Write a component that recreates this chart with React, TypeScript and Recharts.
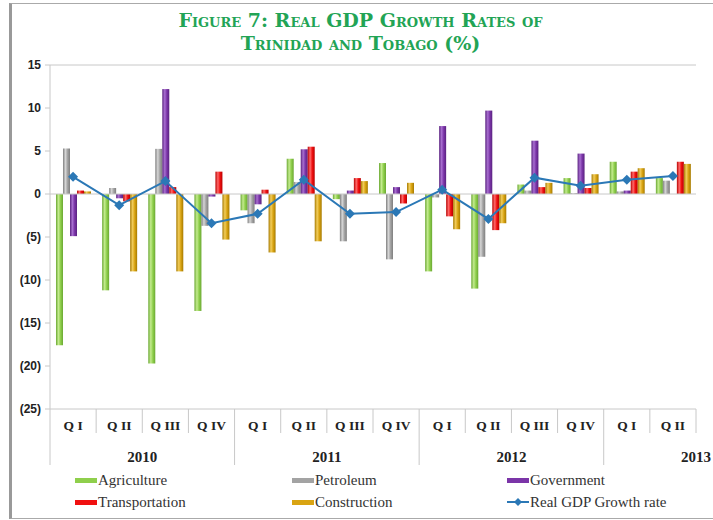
import React from 'react';
import { ComposedChart, Bar, Line, XAxis, YAxis, ReferenceLine, Legend } from 'recharts';

const quarters = ['Q I', 'Q II', 'Q III', 'Q IV', 'Q I', 'Q II', 'Q III', 'Q IV', 'Q I', 'Q II', 'Q III', 'Q IV', 'Q I', 'Q II'];
const years = ['2010', '2010', '2010', '2010', '2011', '2011', '2011', '2011', '2012', '2012', '2012', '2012', '2013', '2013'];

const agriculture = [-17.6, -11.2, -19.7, -13.6, -1.9, 4.1, -0.6, 3.6, -9.0, -11.0, 1.1, 1.85, 3.75, 1.85];
const petroleum = [5.3, 0.7, 5.25, -3.7, -3.4, 1.4, -5.5, -7.6, -0.4, -7.3, 0.4, 0.1, 0.3, 1.55];
const government = [-4.9, -0.5, 12.2, -0.3, -1.2, 5.2, 0.4, 0.8, 7.9, 9.7, 6.2, 4.7, 0.4, 0];
const transportation = [0.4, -0.85, 0.8, 2.6, 0.5, 5.5, 1.85, -1.1, -2.6, -4.2, 0.8, 0.7, 2.6, 3.75];
const construction = [0.3, -9.0, -9.0, -5.3, -6.8, -5.5, 1.5, 1.3, -4.1, -3.4, 1.3, 2.3, 3.0, 3.5];
const gdp = [2.0, -1.3, 1.5, -3.4, -2.3, 1.65, -2.3, -2.1, 0.5, -2.9, 1.9, 0.95, 1.65, 2.1];

const yTicks = [-25, -20, -15, -10, -5, 0, 5, 10, 15];

const data = quarters.map((q, i) => ({
  q,
  year: years[i],
  agriculture: agriculture[i],
  petroleum: petroleum[i],
  government: government[i],
  transportation: transportation[i],
  construction: construction[i],
  gdp: gdp[i],
}));

const bars = [
  { key: 'agriculture', name: 'Agriculture', color: '#8fcf4c', light: '#c4eb8f', dark: '#6aa832' },
  { key: 'petroleum', name: 'Petroleum', color: '#a3a3a3', light: '#d6d6d6', dark: '#7f7f7f' },
  { key: 'government', name: 'Government', color: '#7b35a8', light: '#a86fd0', dark: '#5a2280' },
  { key: 'transportation', name: 'Transportation', color: '#f01010', light: '#ff6a6a', dark: '#b80000' },
  { key: 'construction', name: 'Construction', color: '#d9a412', light: '#f2cd5c', dark: '#a67a00' },
];
const lineColor = '#2b78b6';
const serif = '"Liberation Serif", "Times New Roman", serif';

const QuarterTick = (props: any) => {
  const { x, y, payload } = props;
  const i = props.index ?? payload.index;
  const half = payload.offset || 23;
  const first = i === 0 || years[i] !== years[i - 1];
  const last = i === quarters.length - 1;
  const font = { fontFamily: serif, fontWeight: 700, fill: '#222' };
  return (
    <g>
      <line x1={x - half} x2={x - half} y1={y} y2={first ? y + 56 : y + 24} stroke="#c8c8c8" />
      {last && <line x1={x + half} x2={x + half} y1={y} y2={y + 24} stroke="#c8c8c8" />}
      <text x={x} y={y + 21} textAnchor="middle" fontSize={13.5} {...font}>{payload.value}</text>
      {first && (
        <text x={x + 3 * half} y={y + 53} textAnchor="middle" fontSize={15} {...font}>{years[i]}</text>
      )}
    </g>
  );
};

const Diamond = (props: any) => {
  const { cx, cy } = props;
  if (cx == null || cy == null) return null;
  return <path d={`M${cx},${cy - 5}L${cx + 5},${cy}L${cx},${cy + 5}L${cx - 5},${cy}Z`} fill={lineColor} />;
};

const legendItems = [
  ...bars.map((b) => ({ name: b.name, color: b.color, kind: 'bar' })),
  { name: 'Real GDP Growth rate', color: lineColor, kind: 'line' },
];
const legendCols = [75, 292, 507];

const renderLegend = () => (
  <svg width={713} height={50} style={{ display: 'block' }}>
    {legendItems.map((item, k) => {
      const x = legendCols[k % 3];
      const cy = 10 + Math.floor(k / 3) * 22;
      return (
        <g key={item.name}>
          {item.kind === 'bar' ? (
            <rect x={x} y={cy - 2} width={22} height={5} fill={item.color} />
          ) : (
            <g>
              <line x1={x} x2={x + 22} y1={cy} y2={cy} stroke={lineColor} strokeWidth={2} />
              <path d={`M${x + 11},${cy - 4}L${x + 15},${cy}L${x + 11},${cy + 4}L${x + 7},${cy}Z`} fill={lineColor} />
            </g>
          )}
          <text x={x + 23} y={cy + 5} fontFamily={serif} fontSize={15} fill="#333">{item.name}</text>
        </g>
      );
    })}
  </svg>
);

const App = () => {
  return (
    <div style={{ position: 'absolute', left: 0, top: 0, width: 713, height: 520, background: '#fff', overflow: 'hidden' }}>
      <div
        style={{
          position: 'absolute',
          left: 9,
          top: 3,
          width: 720,
          height: 514,
          borderTop: '1px solid #aaa',
          borderBottom: '1px solid #aaa',
          borderLeft: '3px solid #999',
        }}
      />
      <div
        style={{
          position: 'absolute',
          left: 4,
          top: 9,
          width: 713,
          textAlign: 'center',
          fontFamily: '"DejaVu Serif", serif',
          fontWeight: 700,
          fontVariant: 'small-caps',
          fontSize: 19,
          lineHeight: '23px',
          color: '#22a455',
        }}
      >
        <div>Figure 7: Real GDP Growth Rates of</div>
        <div>Trinidad and Tobago (%)</div>
      </div>
      <div style={{ position: 'absolute', left: 0, top: 0 }}>
        <ComposedChart
          width={713}
          height={520}
          data={data}
          margin={{ top: 65, right: 17, bottom: 0, left: 10 }}
          barCategoryGap="13%"
          barGap={0}
        >
          <defs>
            {bars.map((b) => (
              <linearGradient key={b.key} id={`grad-${b.key}`} x1="0" x2="1" y1="0" y2="0">
                <stop offset="0%" stopColor={b.dark} />
                <stop offset="35%" stopColor={b.light} />
                <stop offset="65%" stopColor={b.color} />
                <stop offset="100%" stopColor={b.dark} />
              </linearGradient>
            ))}
          </defs>
          <XAxis
            dataKey="q"
            interval={0}
            height={61}
            tickLine={false}
            tickSize={0}
            tickMargin={0}
            axisLine={{ stroke: '#c8c8c8' }}
            tick={<QuarterTick />}
          />
          <YAxis
            width={40}
            domain={[-25, 15]}
            ticks={yTicks}
            interval={0}
            allowDataOverflow
            axisLine={{ stroke: '#c8c8c8' }}
            tickLine={{ stroke: '#c8c8c8' }}
            tickSize={5}
            tickMargin={4}
            tickFormatter={(v: number) => (v < 0 ? `(${-v})` : `${v}`)}
            tick={{ fontFamily: '"Liberation Sans", Arial, sans-serif', fontWeight: 700, fontSize: 12, fill: '#222' }}
          />
          <YAxis
            yAxisId="frame"
            orientation="right"
            width={0}
            domain={[-25, 15]}
            tick={false}
            tickLine={false}
            axisLine={{ stroke: '#c8c8c8' }}
          />
          <ReferenceLine y={15} stroke="#c8c8c8" />
          <ReferenceLine y={0} stroke="#c8c8c8" />
          {bars.map((b) => (
            <Bar
              key={b.key}
              dataKey={b.key}
              name={b.name}
              fill={`url(#grad-${b.key})`}
              isAnimationActive={false}
            />
          ))}
          <Line
            dataKey="gdp"
            name="Real GDP Growth rate"
            stroke={lineColor}
            strokeWidth={2}
            dot={<Diamond />}
            activeDot={false}
            isAnimationActive={false}
          />
          <Legend
            verticalAlign="bottom"
            height={50}
            content={renderLegend}
            wrapperStyle={{ left: 0, top: 470, width: 713, height: 50 }}
          />
        </ComposedChart>
      </div>
    </div>
  );
};

export default App;
